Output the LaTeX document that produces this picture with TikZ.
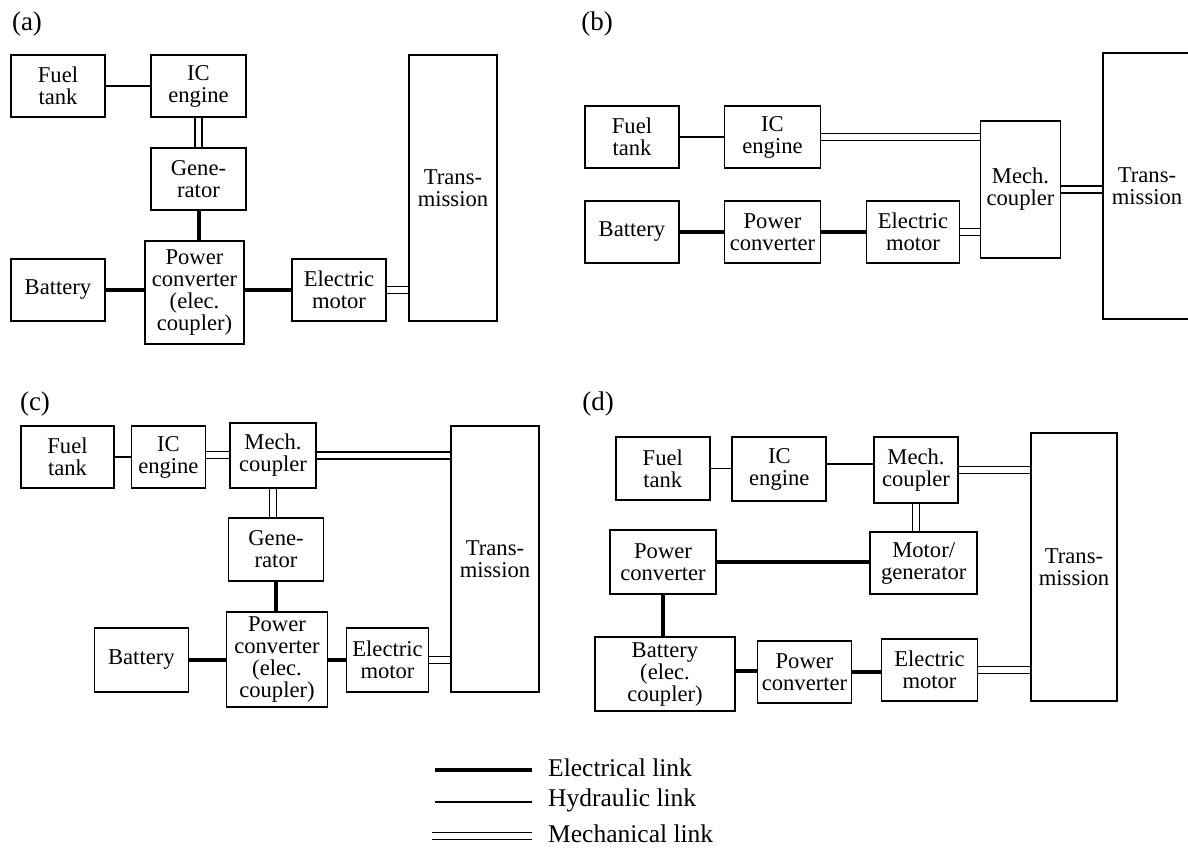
\documentclass[tikz,border=0pt]{standalone}
\usepackage{fontspec}
\setmainfont{Liberation Serif}
\newcommand\bxfont{\fontsize{22.6}{22}\selectfont}
\newcommand\lgfont{\fontsize{25.5}{26}\selectfont}
\newcommand\lbfont{\fontsize{27}{27}\selectfont}
\newcommand\bx[6]{\node[box,minimum width=#4pt,minimum height=#5pt] (#1) at (#2,#3) {#6};}
\begin{document}
\begin{tikzpicture}[x=1pt,y=-1pt,
  box/.style={draw, line width=1.8pt, inner sep=0pt, outer sep=0.9pt, align=center, font=\bxfont},
  elec/.style={line width=4pt},
  hyd/.style={line width=1.6pt},
  mech/.style={double, double distance=5.5pt, line width=1.7pt},
  lbl/.style={font=\lbfont, inner sep=0pt},
  lgd/.style={font=\lgfont, inner sep=0pt, anchor=west}]
\useasboundingbox (0,0) rectangle (1188,848);
% ---------- (a)
\node[lbl] (la) at (27,24) {(a)};
\bx{aF}{58}{86}{94}{62}{Fuel\\tank}
\bx{aI}{198.5}{86}{95}{62}{IC\\engine}
\bx{aG}{198.5}{179}{95}{62}{Gene-\\rator}
\bx{aP}{194.5}{292.5}{99}{103}{Power\\converter\\(elec.\\coupler)}
\bx{aB}{58}{290}{94}{62}{Battery}
\bx{aE}{339}{290}{94}{62}{Electric\\motor}
\bx{aT}{453}{188}{88}{266}{Trans-\\mission}
\draw[hyd] (aF.east) -- (aI.west);
\draw[mech] (aI.south) -- (aG.north);
\draw[elec] (aG.south) -- (aG.south |- aP.north);
\draw[elec] (aB.east) -- (aB.east -| aP.west);
\draw[elec] (aE.west) -- (aE.west -| aP.east);
\draw[mech] (aE.east) -- (aE.east -| aT.west);
% ---------- (b)
\node[lbl] (lb) at (597,24) {(b)};
\bx{bF}{632}{137}{94}{62}{Fuel\\tank}
\bx{bI}{772.5}{137}{96}{62}{IC\\engine}
\bx{bB}{632}{232}{94}{62}{Battery}
\bx{bP}{772.5}{232}{96}{62}{Power\\converter}
\bx{bE}{913}{232}{93}{62}{Electric\\motor}
\bx{bM}{1020.5}{189.5}{80}{137}{Mech.\\coupler}
\bx{bT}{1147}{186}{88}{266}{Trans-\\mission}
\draw[hyd] (bF.east) -- (bI.west);
\draw[mech] (bI.east) -- (bI.east -| bM.west);
\draw[elec] (bB.east) -- (bP.west);
\draw[elec] (bP.east) -- (bE.west);
\draw[mech] (bE.east) -- (bE.east -| bM.west);
\draw[mech] (bM.east) -- (bM.east -| bT.west);
% ---------- (c)
\node[lbl] (lc) at (35,404) {(c)};
\bx{cF}{67.5}{457}{93}{62}{Fuel\\tank}
\bx{cI}{168.4}{457}{74}{62}{IC\\engine}
\bx{cM}{273}{455.5}{86}{65}{Mech.\\coupler}
\bx{cG}{276}{549.5}{95}{63}{Gene-\\rator}
\bx{cP}{277}{659.5}{101}{95}{Power\\converter\\(elec.\\coupler)}
\bx{cB}{141.4}{660}{94}{64}{Battery}
\bx{cE}{387.5}{660}{82}{64}{Electric\\motor}
\bx{cT}{495}{559}{88}{266}{Trans-\\mission}
\draw[hyd] (cF.east) -- (cI.west);
\draw[mech] ([yshift=2pt]cI.east) -- ([yshift=2pt]cI.east -| cM.west);
\draw[mech] (cM.east) -- (cM.east -| cT.west);
\draw[mech] (cM.south) -- (cM.south |- cG.north);
\draw[elec] (cG.south) -- (cG.south |- cP.north);
\draw[elec] (cB.east) -- (cB.east -| cP.west);
\draw[elec] (cE.west) -- (cE.west -| cP.east);
\draw[mech] (cE.east) -- (cE.east -| cT.west);
% ---------- (d)
\node[lbl] (ld) at (598,404) {(d)};
\bx{dF}{662.8}{468.5}{94}{63}{Fuel\\tank}
\bx{dI}{779.3}{469}{94}{64}{IC\\engine}
\bx{dM}{916}{470}{84}{66}{Mech.\\coupler}
\bx{dG}{923.7}{563}{107}{62}{Motor/\\generator}
\bx{dP}{663}{562}{105.5}{64}{Power\\converter}
\bx{dB}{665}{674}{140}{74}{Battery\\(elec.\\coupler)}
\bx{dQ}{804.5}{672}{94}{62}{Power\\converter}
\bx{dE}{929.5}{670}{96}{62}{Electric\\motor}
\bx{dT}{1074}{567}{86}{268}{Trans-\\mission}
\draw[hyd] (dF.east) -- (dF.east -| dI.west);
\draw[hyd] ([yshift=5pt]dI.east) -- ([yshift=5pt]dI.east -| dM.west);
\draw[mech] (dM.east) -- (dM.east -| dT.west);
\draw[mech] (dM.south) -- (dM.south |- dG.north);
\draw[elec] (dP.east) -- (dP.east -| dG.west);
\draw[elec] (dP.south) -- (dP.south |- dB.north);
\draw[elec] ([yshift=3pt]dB.east) -- ([yshift=3pt]dB.east -| dQ.west);
\draw[elec] (dQ.east) -- (dQ.east -| dE.west);
\draw[mech] (dE.east) -- (dE.east -| dT.west);
% ---------- legend
\coordinate (e1) at (435,770); \coordinate (e2) at (532,770);
\coordinate (h1) at (435,802); \coordinate (h2) at (532,802);
\coordinate (m1) at (432,836); \coordinate (m2) at (532,836);
\draw[elec] (e1) -- (e2);
\draw[hyd] (h1) -- (h2);
\draw[mech] (m1) -- (m2);
\node[lgd] (te) at (548,768) {Electrical link};
\node[lgd] (th) at (548,800) {Hydraulic link};
\node[lgd] (tm) at (548,834) {Mechanical link};
\end{tikzpicture}
\end{document}
